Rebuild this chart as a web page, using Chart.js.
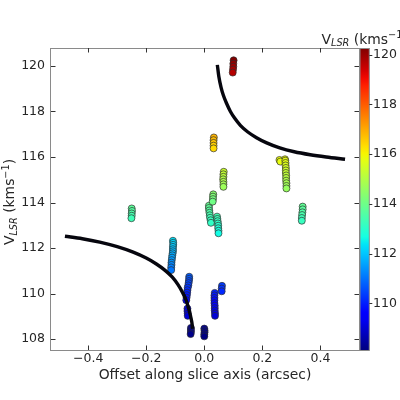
<!DOCTYPE html>
<html><head><meta charset="utf-8">
<script src="https://cdn.jsdelivr.net/npm/chart.js@4.4.1/dist/chart.umd.min.js"></script>
<style>html,body{margin:0;padding:0;background:#fff;}</style>
</head><body>
<canvas id="c" width="400" height="400" style="width:400px;height:400px;display:block"></canvas>
<script>
// ---- data ----
const curveLeftX  = [-0.480,-0.420,-0.360,-0.300,-0.245,-0.200,-0.165,-0.135,-0.110,-0.090,-0.075,-0.063,-0.055,-0.048,-0.043,-0.040];
const curveLeftY  = [112.52,112.41,112.26,112.06,111.82,111.56,111.30,111.02,110.72,110.38,110.05,109.72,109.40,109.05,108.75,108.45];
const curveRightX = [0.045,0.050,0.058,0.066,0.077,0.090,0.105,0.125,0.150,0.180,0.215,0.260,0.310,0.365,0.420,0.485];
const curveRightY = [120.05,119.55,119.05,118.70,118.35,118.00,117.70,117.38,117.10,116.85,116.62,116.40,116.23,116.10,116.00,115.90];

const velX = [
 -0.250,-0.249,-0.250,-0.250,-0.251,
 -0.108,-0.107,-0.107,-0.108,-0.108,-0.108,-0.109,-0.110,-0.111,-0.112,-0.113,-0.113,-0.114,-0.114,
 -0.052,-0.052,-0.053,-0.054,-0.055,-0.057,-0.058,-0.059,-0.060,-0.061,-0.062,
 -0.058,-0.058,-0.057,-0.057,
 -0.046,-0.046,-0.046,-0.047,
 0.000,0.001,0.001,0.000,0.000,
 0.036,0.035,0.035,0.035,0.035,0.036,0.036,0.036,0.037,0.037,
 0.061,0.060,0.060,
 0.016,0.016,0.017,0.018,0.019,0.020,0.022,0.023,
 0.044,0.045,0.046,0.047,0.048,0.048,0.049,0.049,
 0.031,0.030,0.030,0.029,
 0.067,0.066,0.066,0.065,0.066,0.066,0.066,
 0.033,0.032,0.032,0.032,0.032,
 0.101,0.100,0.100,0.099,0.098,
 0.259,0.278,0.262,0.279,0.280,0.280,0.281,0.281,0.281,0.282,0.282,0.282,0.283,0.283,0.283,
 0.339,0.339,0.338,0.337,0.336,0.336
];
const velY = [
 113.74,113.63,113.52,113.42,113.31,
 112.32,112.23,112.14,112.05,111.95,111.86,111.77,111.68,111.58,111.47,111.36,111.26,111.15,111.03,
 110.74,110.65,110.55,110.46,110.36,110.26,110.15,110.04,109.93,109.82,109.71,
 109.34,109.23,109.12,109.02,
 108.49,108.40,108.31,108.22,
 108.46,108.38,108.30,108.21,108.12,
 110.03,109.92,109.81,109.70,109.58,109.47,109.36,109.25,109.13,109.02,
 110.34,110.22,110.10,
 113.86,113.76,113.65,113.55,113.44,113.33,113.22,113.11,
 113.38,113.28,113.18,113.08,112.98,112.87,112.76,112.65,
 114.36,114.26,114.15,114.04,
 115.35,115.24,115.13,115.02,114.91,114.80,114.69,
 116.86,116.74,116.62,116.50,116.38,
 120.25,120.10,119.97,119.84,119.71,
 115.87,115.90,115.80,115.84,115.74,115.63,115.52,115.41,115.30,115.19,115.08,114.96,114.85,114.73,114.62,
 113.82,113.70,113.57,113.45,113.32,113.20
];

const xTicks = [-0.4,-0.2,0.0,0.2,0.4];
const yTicks = [108,110,112,114,116,118,120];
const cbTicks = [110,112,114,116,118,120];
const xRange = [-0.528, 0.533];
const yRange = [107.52, 120.79];
const cbRange = [108.12, 120.27];

// ---- jet colormap ----
function lerpTable(xs, ys, t){
  for (let i=1;i<xs.length;i++){
    if (t<=xs[i]){ const f=(t-xs[i-1])/(xs[i]-xs[i-1]); return ys[i-1]+f*(ys[i]-ys[i-1]); }
  }
  return ys[ys.length-1];
}
function jet(t){
  t=Math.max(0,Math.min(1,t));
  const r=lerpTable([0,0.35,0.66,0.89,1],[0,0,1,1,0.5],t);
  const g=lerpTable([0,0.125,0.375,0.64,0.91,1],[0,0,1,1,0,0],t);
  const b=lerpTable([0,0.11,0.34,0.65,1],[0.5,1,1,0,0],t);
  return `rgb(${Math.round(r*255)},${Math.round(g*255)},${Math.round(b*255)})`;
}
const vcol = v => jet((v-cbRange[0])/(cbRange[1]-cbRange[0]));

const FONT = "'DejaVu Sans', sans-serif";
Chart.defaults.font.family = FONT;
Chart.defaults.color = '#262626';

function drawVLSR(ctx, size){
  const small = size*0.7;
  const parts = [
    {t:'V', f:`${size}px ${FONT}`, dy:0},
    {t:'LSR', f:`italic ${small}px ${FONT}`, dy:size*0.2},
    {t:' (kms', f:`${size}px ${FONT}`, dy:0},
    {t:'\u22121', f:`${small}px ${FONT}`, dy:-size*0.38},
    {t:')', f:`${size}px ${FONT}`, dy:0}
  ];
  let w=0;
  parts.forEach(p=>{ctx.font=p.f; p.w=ctx.measureText(p.t).width; w+=p.w;});
  let x=-w/2;
  ctx.textAlign='left'; ctx.textBaseline='alphabetic';
  parts.forEach(p=>{ctx.font=p.f; ctx.fillText(p.t,x,p.dy); x+=p.w;});
}

const decor = {
  id:'decor',
  afterDraw(chart){
    const {ctx, chartArea:ca, scales} = chart;
    const sx=scales.x, sy=scales.y, sc=scales.cb;
    ctx.save();
    ctx.strokeStyle='#8a8a8a'; ctx.lineWidth=1;
    ctx.strokeRect(Math.round(ca.left)-0.5, Math.round(ca.top)+0.5, Math.round(ca.right-ca.left)+1, Math.round(ca.bottom-ca.top));
    ctx.strokeStyle='#333'; ctx.lineWidth=1;
    const tl=4.5;
    ctx.beginPath();
    xTicks.forEach(v=>{
      const px=Math.round(sx.getPixelForValue(v))+0.5;
      ctx.moveTo(px,ca.bottom); ctx.lineTo(px,ca.bottom-tl);
      ctx.moveTo(px,ca.top); ctx.lineTo(px,ca.top+tl);
    });
    yTicks.forEach(v=>{
      const py=Math.round(sy.getPixelForValue(v))+0.5;
      ctx.moveTo(ca.left,py); ctx.lineTo(ca.left+tl,py);
      ctx.moveTo(ca.right,py); ctx.lineTo(ca.right-tl,py);
    });
    ctx.stroke();
    const cx0=ca.right+1, cw=9.3;
    const g=ctx.createLinearGradient(0,ca.bottom,0,ca.top);
    for(let i=0;i<=40;i++){ g.addColorStop(i/40, jet(i/40)); }
    ctx.fillStyle=g;
    ctx.fillRect(cx0, ca.top, cw, ca.bottom-ca.top);
    ctx.strokeStyle='#8a8a8a';
    ctx.strokeRect(cx0, ca.top+0.5, cw, ca.bottom-ca.top);
    ctx.strokeStyle='#333';
    ctx.beginPath();
    cbTicks.forEach(v=>{
      const py=Math.round(sc.getPixelForValue(v))+0.5;
      ctx.moveTo(cx0+cw,py); ctx.lineTo(cx0+cw+3,py);
    });
    ctx.stroke();
    ctx.fillStyle='#262626';
    ctx.font=`13.9px ${FONT}`; ctx.textAlign='center'; ctx.textBaseline='alphabetic';
    ctx.fillText('Offset along slice axis (arcsec)', (ca.left+ca.right)/2, 378.5);
    ctx.save(); ctx.translate(13.8,(ca.top+ca.bottom)/2+3); ctx.rotate(-Math.PI/2);
    drawVLSR(ctx,13.9); ctx.restore();
    ctx.save(); ctx.translate(cx0+cw/2, 43.5);
    drawVLSR(ctx,13.9); ctx.restore();
    ctx.restore();
  }
};

const fmtX = v => { if (Math.abs(v)<1e-9) return '0.0'; return Number(v).toFixed(1).replace('-', '\u2212'); };
const gridOff = {display:false, drawTicks:false, tickLength:0};

new Chart(document.getElementById('c'), {
  type:'scatter',
  data:{
    datasets:[
      {type:'line', data: curveLeftX.map((x,i)=>({x, y:curveLeftY[i]})), borderColor:'#06060e', borderWidth:3.4,
       pointRadius:0, cubicInterpolationMode:'monotone', fill:false, order:0},
      {type:'line', data: curveRightX.map((x,i)=>({x, y:curveRightY[i]})), borderColor:'#06060e', borderWidth:3.4,
       pointRadius:0, cubicInterpolationMode:'monotone', fill:false, order:0},
      {data: velX.map((x,i)=>({x, y:velY[i]})), pointRadius:3.5, pointBorderWidth:0.8,
       pointBackgroundColor: velY.map(vcol), pointBorderColor:'rgba(45,45,45,0.85)', order:1}
    ]
  },
  options:{
    responsive:false, animation:false,
    layout:{padding:{top:48,left:0,right:0,bottom:0}},
    plugins:{legend:{display:false}, tooltip:{enabled:false}},
    scales:{
      x:{type:'linear', position:'bottom', min:xRange[0], max:xRange[1],
         afterFit:s=>{s.height=50;}, grid:gridOff, border:{display:false},
         afterBuildTicks:s=>{s.ticks=xTicks.map(v=>({value:v}));},
         ticks:{padding:1, font:{size:12.5}, color:'#262626', callback:fmtX, maxRotation:0, autoSkip:false}},
      y:{type:'linear', position:'left', min:yRange[0], max:yRange[1],
         afterFit:s=>{s.width=51;}, grid:gridOff, border:{display:false},
         afterBuildTicks:s=>{s.ticks=yTicks.map(v=>({value:v}));},
         ticks:{padding:6, font:{size:12.5}, color:'#262626', callback:v=>String(Math.round(v)), autoSkip:false}},
      cb:{axis:'y', type:'linear', position:'right', min:cbRange[0], max:cbRange[1],
         afterFit:s=>{s.width=41;}, grid:gridOff, border:{display:false},
         afterBuildTicks:s=>{s.ticks=cbTicks.map(v=>({value:v}));},
         ticks:{padding:14, font:{size:12.5}, color:'#262626', callback:v=>String(Math.round(v)), autoSkip:false}}
    }
  },
  plugins:[decor]
});
</script>
</body></html>
